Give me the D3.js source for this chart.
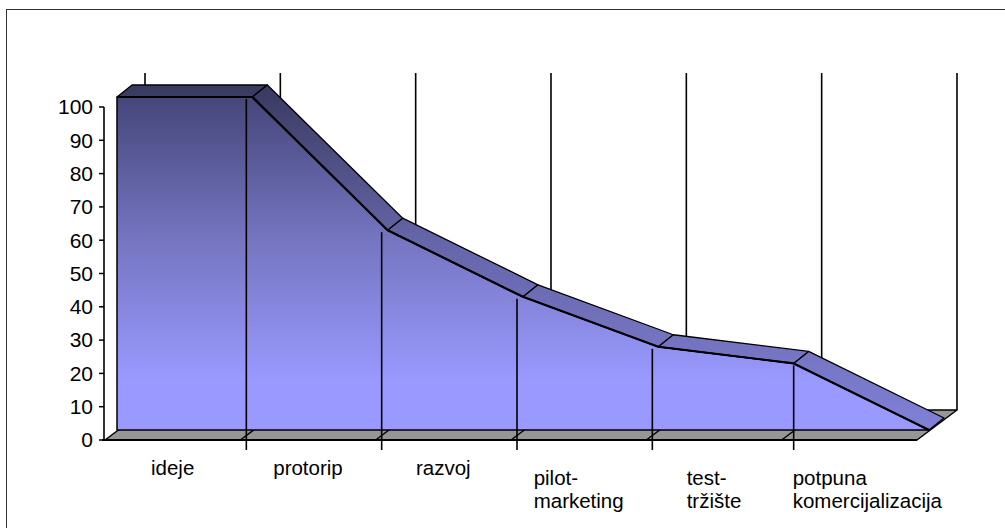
<!DOCTYPE html>
<html>
<head>
<meta charset="utf-8">
<script src="https://cdn.jsdelivr.net/npm/d3@7"></script>
<style>
  body { margin: 0; background: #fff; }
  svg { display: block; font-family: Arial, "Liberation Sans", sans-serif; }
</style>
</head>
<body>
<div id="chart"></div>
<script>

// chart data
const categories = ['ideje', 'protorip', 'razvoj', 'pilot-\nmarketing', 'test-\ntržište', 'potpuna\nkomercijalizacija', ''];
const values = [100, 100, 60, 40, 25, 20, 0];
const yTickValues = [0, 10, 20, 30, 40, 50, 60, 70, 80, 90, 100];

const width = 1005, height = 528;

const svg = d3.select('#chart')
    .append('svg')
    .attr('width', width)
    .attr('height', height);

// x = category index on the front edge of the floor, y = value on the front plane
const x = d3.scaleLinear().domain([0, values.length - 1]).range([105, 917]);
const y = d3.scaleLinear().domain([0, 100]).range([440, 107]);

// oblique 3d offsets: front of the area, thickness of the area, back wall
const front = [12, -10];
const depth = [15, -12];
const wall = [40, -30];

const last = values.length - 1;

// gradients
const defs = svg.append('defs');
const faceGrad = defs.append('linearGradient')
    .attr('id', 'face')
    .attr('gradientUnits', 'userSpaceOnUse')
    .attr('x1', 0).attr('x2', 0)
    .attr('y1', y(100) + front[1]).attr('y2', y(0) + front[1]);
faceGrad.append('stop').attr('offset', 0).attr('stop-color', '#45467a');
faceGrad.append('stop').attr('offset', 0.45).attr('stop-color', '#7777c4');
faceGrad.append('stop').attr('offset', 0.85).attr('stop-color', '#9999ff');
faceGrad.append('stop').attr('offset', 1).attr('stop-color', '#9999ff');

const topGrad = defs.append('linearGradient')
    .attr('id', 'top')
    .attr('gradientUnits', 'userSpaceOnUse')
    .attr('x1', 0).attr('x2', 0)
    .attr('y1', y(100) + front[1] + depth[1]).attr('y2', y(0) + front[1]);
topGrad.append('stop').attr('offset', 0).attr('stop-color', '#393a5f');
topGrad.append('stop').attr('offset', 0.45).attr('stop-color', '#6565a9');
topGrad.append('stop').attr('offset', 1).attr('stop-color', '#8080d6');

// chart area border
svg.append('rect')
    .attr('x', 6.5).attr('y', 9.5)
    .attr('width', 1100).attr('height', 600)
    .attr('fill', 'none')
    .attr('stroke', '#333')
    .attr('stroke-width', 1);

// back wall gridlines
svg.append('g')
    .selectAll('line')
    .data(values)
    .enter()
    .append('line')
    .attr('x1', (d, i) => x(i) + wall[0])
    .attr('x2', (d, i) => x(i) + wall[0])
    .attr('y1', y(0) + wall[1])
    .attr('y2', y(100) + wall[1] - 4)
    .attr('stroke', '#000')
    .attr('stroke-width', 1.6);

// floor
const floorPts = [
    [x(0), y(0)], [x(last), y(0)],
    [x(last) + wall[0], y(0) + wall[1]], [x(0) + wall[0], y(0) + wall[1]]
];
svg.append('polygon')
    .attr('points', floorPts.map(p => p.join(',')).join(' '))
    .attr('fill', '#969696')
    .attr('stroke', '#000')
    .attr('stroke-width', 1.5)
    .attr('stroke-linejoin', 'round');
svg.append('line')
    .attr('x1', x(0) - 3).attr('x2', x(last))
    .attr('y1', y(0)).attr('y2', y(0))
    .attr('stroke', '#000').attr('stroke-width', 2.2);

// floor gridlines going back
svg.append('g')
    .selectAll('line')
    .data(values.slice(1, last))
    .enter()
    .append('line')
    .attr('x1', (d, i) => x(i + 1))
    .attr('y1', y(0))
    .attr('x2', (d, i) => x(i + 1) + wall[0])
    .attr('y2', y(0) + wall[1])
    .attr('stroke', '#000')
    .attr('stroke-width', 1.5);

// area front face
const pts = values.map((v, i) => [x(i) + front[0], y(v) + front[1]]);
const facePts = pts.concat([[x(last) + front[0], y(0) + front[1]], [x(0) + front[0], y(0) + front[1]]]);
svg.append('polygon')
    .attr('points', facePts.map(p => p.join(',')).join(' '))
    .attr('fill', 'url(#face)')
    .attr('stroke', '#000')
    .attr('stroke-width', 1.5)
    .attr('stroke-linejoin', 'round');

// top ribbon of the area
const segments = d3.pairs(pts);
svg.append('g')
    .selectAll('polygon')
    .data(segments)
    .enter()
    .append('polygon')
    .attr('points', d => [
        d[0], d[1],
        [d[1][0] + depth[0], d[1][1] + depth[1]],
        [d[0][0] + depth[0], d[0][1] + depth[1]]
    ].map(p => p.join(',')).join(' '))
    .attr('fill', 'url(#top)')
    .attr('stroke', '#000')
    .attr('stroke-width', 1.3)
    .attr('stroke-linejoin', 'round');

// thicker front edge
svg.append('path')
    .attr('d', d3.line()(pts))
    .attr('fill', 'none')
    .attr('stroke', '#000')
    .attr('stroke-width', 2.2)
    .attr('stroke-linejoin', 'round');

// category tick lines on the front face
svg.append('g')
    .selectAll('line')
    .data(values.slice(1, last))
    .enter()
    .append('line')
    .attr('x1', (d, i) => x(i + 1) + 6 + (i === last - 2 ? 6 : 0))
    .attr('x2', (d, i) => x(i + 1) + 6 + (i === last - 2 ? 6 : 0))
    .attr('y1', y(0) + 10)
    .attr('y2', d => y(d) - 8)
    .attr('stroke', '#000')
    .attr('stroke-width', 1.6);

// y axis
const yAxis = svg.append('g');
yAxis.append('line')
    .attr('x1', x(0) - 1).attr('x2', x(0) - 1)
    .attr('y1', y(0)).attr('y2', y(100))
    .attr('stroke', '#000').attr('stroke-width', 1.6);
yAxis.selectAll('.tick')
    .data(yTickValues)
    .enter()
    .append('line')
    .attr('x1', x(0) - 6).attr('x2', x(0) - 1)
    .attr('y1', d => y(d)).attr('y2', d => y(d))
    .attr('stroke', '#000').attr('stroke-width', 1.5);
yAxis.selectAll('text')
    .data(yTickValues)
    .enter()
    .append('text')
    .attr('x', x(0) - 12)
    .attr('y', d => y(d))
    .attr('dy', '0.35em')
    .attr('text-anchor', 'end')
    .attr('font-size', 21)
    .attr('fill', '#000')
    .text(d => d);

// category labels, centered in each band, lines left aligned
categories.forEach(function(cat, i) {
    if (!cat) return;
    const lines = cat.split('\n');
    const cx = (x(i) + x(i + 1)) / 2 + (i === last - 1 ? 18 : 0);
    const base = lines.length > 1 ? 485 : 475;
    const g = svg.append('g');
    const texts = lines.map((t, k) => g.append('text')
        .attr('y', base + k * 23)
        .attr('font-size', 20.5)
        .attr('fill', '#000')
        .text(t));
    const w = d3.max(texts, t => t.node().getComputedTextLength());
    texts.forEach(t => t.attr('x', cx - w / 2));
});

</script>
</body>
</html>
